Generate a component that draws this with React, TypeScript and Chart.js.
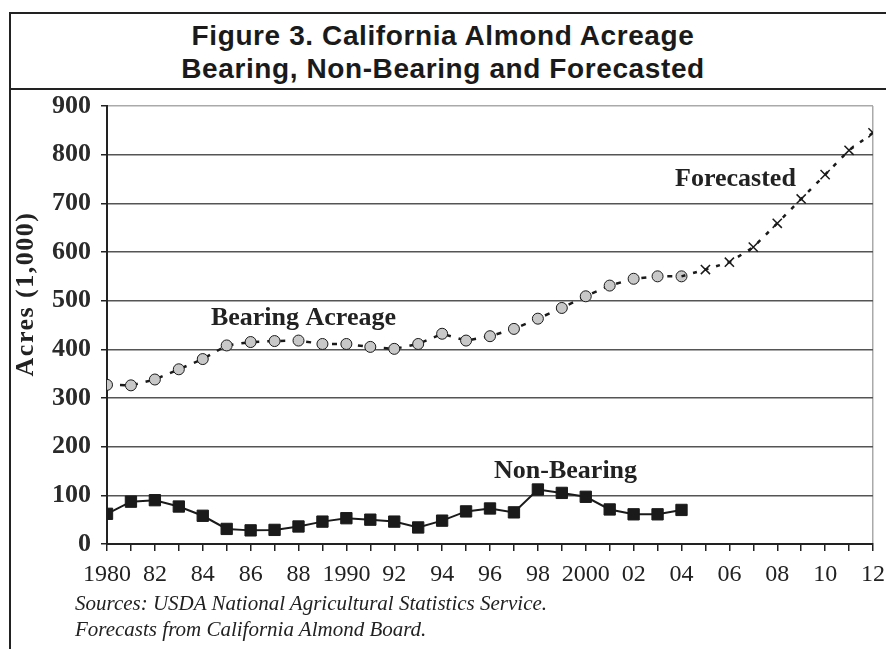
import React, { useEffect, useRef } from "react";
import { Chart, registerables } from "chart.js";

Chart.register(...registerables);

const years = [
  1980, 1981, 1982, 1983, 1984, 1985, 1986, 1987, 1988, 1989, 1990,
  1991, 1992, 1993, 1994, 1995, 1996, 1997, 1998, 1999, 2000, 2001,
  2002, 2003, 2004, 2005, 2006, 2007, 2008, 2009, 2010, 2011, 2012,
];

const bearingYears = years.slice(0, 25);
const bearingAcreage = [
  327, 326, 338, 359, 380, 408, 415, 417, 418, 411, 411, 405, 401, 411,
  432, 418, 427, 442, 463, 485, 509, 531, 545, 550, 550,
];

const nonBearingYears = years.slice(0, 25);
const nonBearing = [
  62, 87, 90, 77, 58, 31, 28, 29, 36, 46, 53, 50, 46, 34, 48, 67, 73,
  65, 112, 105, 97, 71, 61, 61, 70,
];

const forecastYears = [2004, 2005, 2006, 2007, 2008, 2009, 2010, 2011, 2012];
const forecasted = [550, 564, 579, 610, 659, 709, 759, 809, 845];

const xTickLabels = [
  "1980", "", "82", "", "84", "", "86", "", "88", "", "1990", "", "92", "",
  "94", "", "96", "", "98", "", "2000", "", "02", "", "04", "", "06", "",
  "08", "", "10", "", "12",
];

const annotations = [
  { text: "Bearing Acreage", x: 1984.34, y: 450 },
  { text: "Forecasted", x: 2003.73, y: 736 },
  { text: "Non-Bearing", x: 1996.17, y: 136 },
];

const yTitle = "Acres (1,000)";

const labelPlugin = {
  id: "labels",
  afterDraw(chart: any) {
    const ctx = chart.ctx;
    const xs = chart.scales.x;
    const ys = chart.scales.y;
    ctx.save();
    ctx.fillStyle = "#222";
    ctx.font = "bold 26px 'Liberation Serif'";
    ctx.textAlign = "left";
    ctx.textBaseline = "alphabetic";
    for (const a of annotations) {
      ctx.fillText(a.text, xs.getPixelForValue(a.x), ys.getPixelForValue(a.y));
    }
    ctx.restore();

    ctx.save();
    ctx.fillStyle = "#222";
    ctx.font = "bold 26px 'Liberation Serif'";
    try {
      (ctx as any).letterSpacing = "1.5px";
    } catch (e) {}
    ctx.translate(26, 294);
    ctx.rotate(-Math.PI / 2);
    ctx.textAlign = "center";
    ctx.textBaseline = "middle";
    ctx.fillText(yTitle, 0, 0);
    ctx.restore();
  },
};

export default function App() {
  const ref = useRef<HTMLCanvasElement | null>(null);

  useEffect(() => {
    if (!ref.current) return;
    const chart = new Chart(ref.current, {
      type: "line",
      data: {
        datasets: [
          {
            label: "Non-Bearing",
            data: nonBearingYears.map((yr, i) => ({ x: yr, y: nonBearing[i] })),
            borderColor: "#1a1a1a",
            borderWidth: 2,
            pointStyle: "rect",
            pointRadius: 8,
            pointBackgroundColor: "#1a1a1a",
            pointBorderColor: "#1a1a1a",
            pointBorderWidth: 1,
            tension: 0,
          },
          {
            label: "Forecasted",
            data: forecastYears.map((yr, i) => ({ x: yr, y: forecasted[i] })),
            borderColor: "#1a1a1a",
            borderWidth: 2.5,
            borderDash: [4, 8],
            pointStyle: "crossRot",
            pointRadius: forecastYears.map((_, i) => (i === 0 ? 0 : 6.5)),
            pointBorderColor: "#1a1a1a",
            pointBorderWidth: 1.5,
            tension: 0,
          },
          {
            label: "Bearing Acreage",
            data: bearingYears.map((yr, i) => ({ x: yr, y: bearingAcreage[i] })),
            borderColor: "#1a1a1a",
            borderWidth: 2.5,
            borderDash: [5, 8],
            pointStyle: "circle",
            pointRadius: 5.5,
            pointBackgroundColor: "#c8c8c8",
            pointBorderColor: "#1a1a1a",
            pointBorderWidth: 1,
            tension: 0,
          },
        ],
      },
      options: {
        animation: false,
        responsive: false,
        maintainAspectRatio: false,
        layout: { padding: { left: 0, top: 106, right: 13, bottom: 0 } },
        plugins: {
          legend: { display: false },
          tooltip: { enabled: false },
          title: { display: false },
        },
        scales: {
          x: {
            type: "linear",
            min: 1980,
            max: 2012,
            afterFit: (s: any) => {
              s.height = 105;
              s.paddingLeft = 0;
              s.paddingRight = 0;
            },
            ticks: {
              stepSize: 1,
              autoSkip: false,
              maxRotation: 0,
              minRotation: 0,
              padding: 9,
              color: "#222",
              font: { family: "'Liberation Serif'", size: 24 },
              callback: (v: any) => {
                const idx = years.indexOf(Number(v));
                return idx >= 0 ? xTickLabels[idx] : "";
              },
            },
            grid: {
              drawOnChartArea: true,
              color: (c: any) =>
                c.tick && c.tick.value === 2012 ? "#aaaaaa" : "rgba(0,0,0,0)",
              tickColor: "#222",
              tickLength: 7,
              lineWidth: 1.5,
            },
            border: { display: true, color: "#222", width: 2 },
          },
          y: {
            min: 0,
            max: 900,
            afterFit: (s: any) => {
              s.width = 107;
              s.paddingTop = 0;
              s.paddingBottom = 0;
            },
            ticks: {
              stepSize: 100,
              padding: 10,
              color: "#2a2a2a",
              font: { family: "'Liberation Serif'", size: 26, weight: "bold" },
            },
            grid: {
              color: (c: any) =>
                c.tick && c.tick.value === 900 ? "#aaaaaa" : "#555555",
              lineWidth: 1.5,
              tickColor: "#222",
              tickLength: 6,
            },
            border: { display: true, color: "#222", width: 2 },
          },
        },
      },
      plugins: [labelPlugin],
    });
    return () => chart.destroy();
  }, []);

  return (
    <div
      style={{
        position: "absolute",
        left: 0,
        top: 0,
        width: 886,
        height: 649,
        overflow: "hidden",
        background: "#fff",
      }}
    >
      <div
        style={{
          position: "absolute",
          left: 9,
          top: 12,
          width: 877,
          height: 2,
          background: "#222",
        }}
      />
      <div
        style={{
          position: "absolute",
          left: 9,
          top: 88,
          width: 877,
          height: 2,
          background: "#222",
        }}
      />
      <div
        style={{
          position: "absolute",
          left: 9,
          top: 12,
          width: 2,
          height: 637,
          background: "#222",
        }}
      />
      <div
        style={{
          position: "absolute",
          left: 0,
          top: 19,
          width: 886,
          textAlign: "center",
          fontFamily: "'Liberation Sans', Arial, sans-serif",
          fontWeight: "bold",
          fontSize: 28,
          lineHeight: "33px",
          letterSpacing: "0.6px",
          color: "#1a1a1a",
        }}
      >
        <div>Figure 3. California Almond Acreage</div>
        <div>Bearing, Non-Bearing and Forecasted</div>
      </div>
      <canvas
        ref={ref}
        width={886}
        height={649}
        style={{ position: "absolute", left: 0, top: 0, width: 886, height: 649 }}
      />
      <div
        style={{
          position: "absolute",
          left: 75,
          top: 590,
          fontFamily: "'Liberation Serif', serif",
          fontStyle: "italic",
          fontSize: 21,
          lineHeight: "26px",
          color: "#222",
          whiteSpace: "nowrap",
        }}
      >
        <div>Sources: USDA National Agricultural Statistics Service.</div>
        <div>Forecasts from California Almond Board.</div>
      </div>
    </div>
  );
}
